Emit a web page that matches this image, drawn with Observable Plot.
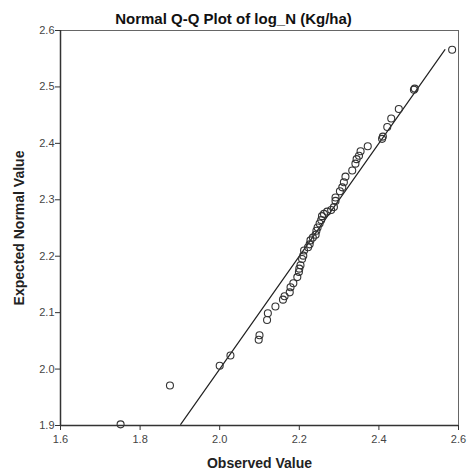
<!DOCTYPE html>
<html>
<head>
<meta charset="utf-8">
<script src="https://cdn.jsdelivr.net/npm/d3@7"></script>
<script src="https://cdn.jsdelivr.net/npm/@observablehq/plot@0.6"></script>
<style>
  html, body { margin: 0; padding: 0; background: #fff; }
  #chart svg { font-family: "Liberation Sans", Arial, sans-serif; }
  #chart g[aria-label="x-axis label"] text,
  #chart g[aria-label="y-axis label"] text { font-weight: bold; font-size: 14px; fill: #222; }
  #chart g[aria-label="x-axis tick label"] text,
  #chart g[aria-label="y-axis tick label"] text { fill: #444; font-size: 11px; }
</style>
</head>
<body>
<div id="chart"></div>
<script>
const title = "Normal Q-Q Plot of log_N (Kg/ha)";
const xLabel = "Observed Value";
const yLabel = "Expected Normal Value";
const xTicks = [1.6, 1.8, 2.0, 2.2, 2.4, 2.6];
const yTicks = [1.9, 2.0, 2.1, 2.2, 2.3, 2.4, 2.5, 2.6];

const observed = [1.751, 1.875, 2.000, 2.027, 2.098, 2.100, 2.119, 2.121, 2.140, 2.159,
  2.163, 2.176, 2.178, 2.185, 2.195, 2.199, 2.200, 2.203, 2.207, 2.210,
  2.212, 2.222, 2.226, 2.228, 2.234, 2.241, 2.243, 2.246, 2.251, 2.255,
  2.257, 2.262, 2.270, 2.280, 2.287, 2.291, 2.291, 2.302, 2.308, 2.312,
  2.316, 2.333, 2.341, 2.344, 2.350, 2.354, 2.372, 2.408, 2.410, 2.421,
  2.431, 2.450, 2.488, 2.490, 2.584];
const expected = [1.902, 1.971, 2.006, 2.024, 2.052, 2.060, 2.087, 2.099, 2.111, 2.123,
  2.129, 2.136, 2.145, 2.152, 2.163, 2.172, 2.178, 2.184, 2.195, 2.201,
  2.210, 2.216, 2.221, 2.228, 2.233, 2.238, 2.245, 2.251, 2.258, 2.264,
  2.271, 2.275, 2.279, 2.282, 2.287, 2.298, 2.304, 2.315, 2.322, 2.331,
  2.341, 2.352, 2.364, 2.372, 2.378, 2.386, 2.395, 2.408, 2.412, 2.429,
  2.444, 2.461, 2.495, 2.497, 2.566];
const refLine = [1.902, 2.566];

const points = observed.map((x, i) => ({x, y: expected[i]}));
const linePts = refLine.map(v => ({x: v, y: v}));

const chart = Plot.plot({
  width: 475,
  height: 476,
  marginLeft: 60,
  marginRight: 17,
  marginTop: 30,
  marginBottom: 51,
  style: {fontFamily: '"Liberation Sans", Arial, sans-serif', fontSize: "11px", background: "#fff"},
  x: {domain: [1.6, 2.6]},
  y: {domain: [1.9, 2.6]},
  marks: [
    Plot.frame({stroke: "#666", strokeWidth: 1}),
    Plot.axisX({ticks: xTicks, tickFormat: d3.format(".1f"), tickSize: 5, tickPadding: 5, stroke: "#333",
      label: xLabel, labelAnchor: "center", labelArrow: "none", labelOffset: 42}),
    Plot.axisY({ticks: yTicks, tickFormat: d3.format(".1f"), tickSize: 5, tickPadding: 1, stroke: "#333",
      label: yLabel, labelAnchor: "center", labelArrow: "none", labelOffset: 46}),
    Plot.ruleX([1.6], {stroke: "#333", strokeWidth: 1.5}),
    Plot.ruleY([1.9], {stroke: "#333", strokeWidth: 1.5}),
    Plot.line(linePts, {x: "x", y: "y", stroke: "#222", strokeWidth: 1.2}),
    Plot.dot(points, {x: "x", y: "y", r: 3.5, stroke: "#333", strokeWidth: 1.1, fill: "none"}),
    Plot.text([title], {frameAnchor: "top", dy: -17, dx: -26, text: d => d, fontSize: 15, fontWeight: "bold", fill: "#111"})
  ]
});
document.getElementById("chart").appendChild(chart);
</script>
</body>
</html>
